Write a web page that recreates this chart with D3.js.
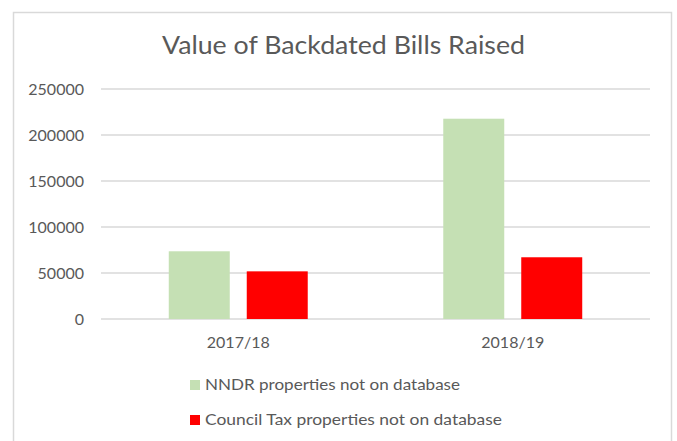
<!DOCTYPE html>
<html>
<head>
<meta charset="utf-8">
<script src="https://cdn.jsdelivr.net/npm/d3@7"></script>
<style>
  body { margin: 0; background: #fff; }
  text { font-family: Lato, "Open Sans", sans-serif; fill: #595959; }
</style>
</head>
<body>
<svg id="chart"></svg>
<script>
const categories = ['2017/18', '2018/19'];
const seriesNames = ['NNDR properties not on database', 'Council Tax properties not on database'];
const nndrValues = [73600, 217700];
const councilTaxValues = [51800, 67100];
const yTicks = [0, 50000, 100000, 150000, 200000, 250000];
const colors = ['#C5E0B4', '#FF0000'];

const width = 677;
const height = 441;

const svg = d3.select('#chart')
  .attr('width', width)
  .attr('height', height);

// chart area border (bottom edge is cut off in the picture)
svg.append('rect')
  .attr('x', 13.5).attr('y', 12.5)
  .attr('width', 658).attr('height', 460)
  .attr('fill', 'none')
  .attr('stroke', '#D9D9D9')
  .attr('stroke-width', 1.5);

svg.append('text')
  .attr('x', 343.5).attr('y', 54)
  .attr('text-anchor', 'middle')
  .attr('font-size', 25)
  .attr('textLength', 363)
  .attr('lengthAdjust', 'spacingAndGlyphs')
  .text('Value of Backdated Bills Raised');

const y = d3.scaleLinear()
  .domain([0, 250000])
  .range([319, 89]);

const x0 = d3.scaleBand()
  .domain(categories)
  .range([101, 650]);

const x1 = d3.scaleBand()
  .domain(seriesNames)
  .range([0, x0.bandwidth()])
  .paddingInner(0.218)
  .paddingOuter(0.869);

// gridlines
svg.append('g')
  .selectAll('line')
  .data(yTicks)
  .enter()
  .append('line')
  .attr('x1', 101).attr('x2', 650)
  .attr('y1', d => y(d)).attr('y2', d => y(d))
  .attr('stroke', '#D9D9D9')
  .attr('stroke-width', 1.5);

// y axis labels
const yAxis = d3.axisLeft(y).tickValues(yTicks).tickSize(0).tickPadding(0).tickFormat(d3.format('d'));
svg.append('g')
  .attr('transform', 'translate(84,0)')
  .call(yAxis)
  .call(g => g.select('.domain').remove())
  .selectAll('text')
  .attr('font-size', 16)
  .attr('font-family', 'Lato, sans-serif')
  .attr('fill', '#595959')
  .attr('dy', '0.36em');

const rows = categories.map((c, i) => ({
  category: c,
  values: [nndrValues[i], councilTaxValues[i]]
}));

svg.append('g')
  .selectAll('g')
  .data(rows)
  .enter()
  .append('g')
  .attr('transform', d => `translate(${x0(d.category)},0)`)
  .selectAll('rect')
  .data(d => d.values.map((v, i) => ({ name: seriesNames[i], value: v, color: colors[i] })))
  .enter()
  .append('rect')
  .attr('x', d => x1(d.name))
  .attr('width', x1.bandwidth())
  .attr('y', d => y(d.value))
  .attr('height', d => y(0) - y(d.value))
  .attr('fill', d => d.color);

// x axis labels
const xAxis = d3.axisBottom(x0).tickSize(0).tickPadding(0);
svg.append('g')
  .attr('transform', 'translate(0,348)')
  .call(xAxis)
  .call(g => g.select('.domain').remove())
  .selectAll('text')
  .attr('font-size', 16)
  .attr('font-family', 'Lato, sans-serif')
  .attr('fill', '#595959')
  .attr('dy', 0);

// legend
const legend = svg.append('g')
  .selectAll('g')
  .data(seriesNames)
  .enter()
  .append('g')
  .attr('transform', (d, i) => `translate(190,${380 + i * 35})`);

legend.append('rect')
  .attr('width', 10).attr('height', 10)
  .attr('fill', (d, i) => colors[i]);

legend.append('text')
  .attr('x', 15).attr('y', 10)
  .attr('font-size', 16)
  .attr('textLength', (d, i) => [255, 297][i])
  .attr('lengthAdjust', 'spacingAndGlyphs')
  .text(d => d);
</script>
</body>
</html>
